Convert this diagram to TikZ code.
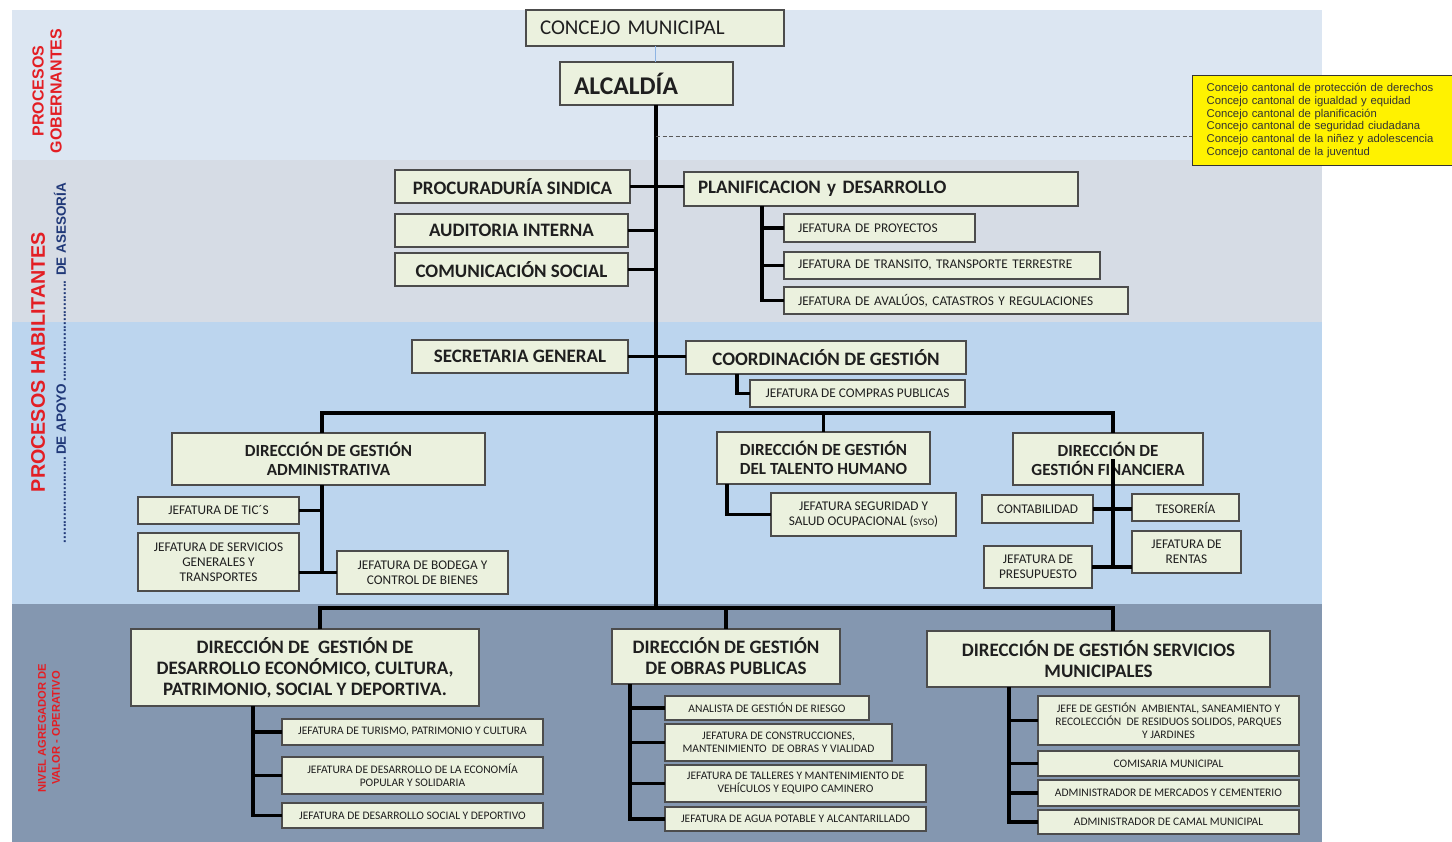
\documentclass[tikz,border=0pt]{standalone}
\usepackage{fontspec}
\newfontfamily\carlito{Carlito}
\newfontfamily\arial{Liberation Sans}
\usetikzlibrary{positioning}
\definecolor{verdecaja}{RGB}{235,241,222}
\definecolor{fondogob}{RGB}{220,230,242}
\definecolor{fondoases}{RGB}{214,220,229}
\definecolor{fondoapoyo}{RGB}{188,213,238}
\definecolor{fondooper}{RGB}{132,151,176}
\definecolor{rojoproc}{RGB}{227,30,36}
\definecolor{azulproc}{RGB}{32,56,120}
\definecolor{lineaazul}{RGB}{142,180,227}
\begin{document}
\begin{tikzpicture}[x=1pt, y=-1pt,
    box/.style={rectangle, draw=black!70, line width=1.2pt, fill=verdecaja, inner sep=0pt, outer sep=0pt, anchor=north west, align=center, text=black!88},
    izq/.style={align=left, inner xsep=14pt},
    big/.style={box, font=\carlito\bfseries\fontsize{19}{21}\selectfont},
    dir/.style={box, font=\carlito\bfseries\fontsize{17}{19}\selectfont},
    bigb/.style={box, font=\carlito\bfseries\fontsize{19}{21}\selectfont},
    jefa/.style={box, font=\carlito\fontsize{13.3}{15}\selectfont},
    jefb/.style={box, font=\carlito\fontsize{11.5}{13}\selectfont},
    lnk/.style={line width=3.5pt, black},
    franja/.style={font=\arial\bfseries, text=rojoproc, rotate=90, align=center}
]
    \useasboundingbox (0,0) rectangle (1452,842);
    % Fondos de cada nivel
    \fill[white] (0,0) rectangle (1452,842);
    \fill[fondogob] (12,10) rectangle (1322,160);
    \fill[fondoases] (12,160) rectangle (1322,322);
    \fill[fondoapoyo] (12,322) rectangle (1322,604);
    \fill[fondooper] (12,604) rectangle (1322,842);

    % Rotulos laterales
    \node[franja, font=\arial\bfseries\fontsize{16}{18}\selectfont] (lgob) at (47,91) {PROCESOS\\GOBERNANTES};
    \node[franja, font=\arial\bfseries\fontsize{19.7}{21}\selectfont] (lhab) at (38,362) {PROCESOS HABILITANTES};
    \node[rotate=90, text=azulproc, font=\arial\bfseries\fontsize{13.5}{15}\selectfont] (lsub) at (60,363) {\makebox[360pt][l]{\leaders\hbox{.}\hskip 88pt DE APOYO\leaders\hbox{.}\hfill\ DE ASESORÍA}};
    \node[franja, font=\arial\bfseries\fontsize{11.2}{14}\selectfont] (lniv) at (49,728) {NIVEL AGREGADOR DE\\VALOR - OPERATIVO};

    % Nivel gobernante
    \node[box, izq, text width=230pt, minimum height=36pt, font=\carlito\fontsize{21}{23}\selectfont] (conc) at (526,10) {CONCEJO MUNICIPAL};
    \node[box, izq, text width=145pt, minimum height=43pt, font=\carlito\bfseries\fontsize{25.5}{27}\selectfont] (alc) at (560,62) {ALCALDÍA};
    \node[draw=black!80, line width=1.2pt, fill=yellow, anchor=north west, text width=232pt, inner xsep=14pt, inner ysep=0pt, minimum height=90pt, align=left, text=black!80, font=\arial\fontsize{11.3}{12.7}\selectfont] (cons) at (1192,75) {Concejo cantonal de protección de derechos\\Concejo cantonal de igualdad y equidad\\Concejo cantonal de planificación\\Concejo cantonal de seguridad ciudadana\\Concejo cantonal de la niñez y adolescencia\\Concejo cantonal de la juventud};

    % Asesoria
    \node[big, minimum width=235pt, minimum height=33pt] (proc) at (395,170) {PROCURADURÍA SINDICA};
    \node[big, minimum width=233pt, minimum height=33pt, below=11pt of proc.south west, anchor=north west] (aud) {AUDITORIA INTERNA};
    \node[big, minimum width=233pt, minimum height=33pt, below=6pt of aud.south west, anchor=north west] (com) {COMUNICACIÓN SOCIAL};
    \node[big, izq, text width=366pt, minimum height=34pt] (plan) at (684,172) {PLANIFICACION y DESARROLLO};
    \node[jefa, izq, text width=163pt, minimum height=28pt] (jproy) at (784,214) {JEFATURA DE PROYECTOS};
    \node[jefa, izq, text width=288pt, minimum height=27pt, below=10pt of jproy.south west, anchor=north west] (jtran) {JEFATURA DE TRANSITO, TRANSPORTE TERRESTRE};
    \node[jefa, izq, text width=316pt, minimum height=27pt, below=8pt of jtran.south west, anchor=north west] (javal) {JEFATURA DE AVALÚOS, CATASTROS Y REGULACIONES};

    % Apoyo
    \node[big, minimum width=216pt, minimum height=33pt] (sec) at (412,340) {SECRETARIA GENERAL};
    \node[big, minimum width=280pt, minimum height=33pt] (coord) at (686,341) {COORDINACIÓN DE GESTIÓN};
    \node[jefa, minimum width=215pt, minimum height=27pt] (jcomp) at (750,380) {JEFATURA DE COMPRAS PUBLICAS};
    \node[dir, minimum width=313pt, minimum height=52pt] (dga) at (172,433) {DIRECCIÓN DE GESTIÓN\\ADMINISTRATIVA};
    \node[jefa, minimum width=161pt, minimum height=27pt] (jtic) at (138,497) {JEFATURA DE TIC´S};
    \node[jefa, minimum width=161pt, minimum height=58pt, below=9pt of jtic.south west, anchor=north west] (jserv) {JEFATURA DE SERVICIOS\\GENERALES Y\\TRANSPORTES};
    \node[jefa, minimum width=171pt, minimum height=43pt] (jbod) at (337,551) {JEFATURA DE BODEGA Y\\CONTROL DE BIENES};
    \node[dir, minimum width=213pt, minimum height=52pt] (dth) at (717,432) {DIRECCIÓN DE GESTIÓN\\DEL TALENTO HUMANO};
    \node[jefa, minimum width=185pt, minimum height=43pt] (jsyso) at (771,493) {JEFATURA SEGURIDAD Y\\SALUD OCUPACIONAL ({\fontsize{10}{12}\selectfont SYSO})};
    \node[dir, minimum width=190pt, minimum height=52pt] (dfin) at (1013,433) {DIRECCIÓN DE\\GESTIÓN FINANCIERA};
    \node[jefa, minimum width=111pt, minimum height=28pt] (cont) at (982,495) {CONTABILIDAD};
    \node[jefa, minimum width=107pt, minimum height=27pt] (teso) at (1132,494) {TESORERÍA};
    \node[jefa, minimum width=108pt, minimum height=42pt] (jpres) at (984,546) {JEFATURA DE\\PRESUPUESTO};
    \node[jefa, minimum width=109pt, minimum height=42pt] (jrent) at (1132,531) {JEFATURA DE\\RENTAS};

    % Agregador de valor
    \node[bigb, minimum width=348pt, minimum height=77pt] (dde) at (131,629) {DIRECCIÓN DE~~GESTIÓN DE\\DESARROLLO ECONÓMICO, CULTURA,\\PATRIMONIO, SOCIAL Y DEPORTIVA.};
    \node[jefb, minimum width=261pt, minimum height=26pt] (jtur) at (282,719) {JEFATURA DE TURISMO, PATRIMONIO Y CULTURA};
    \node[jefb, minimum width=261pt, minimum height=37pt, below=12pt of jtur.south west, anchor=north west] (jeco) {JEFATURA DE DESARROLLO DE LA ECONOMÍA\\POPULAR Y SOLIDARIA};
    \node[jefb, minimum width=261pt, minimum height=25pt, below=9pt of jeco.south west, anchor=north west] (jsoc) {JEFATURA DE DESARROLLO SOCIAL Y DEPORTIVO};
    \node[bigb, minimum width=228pt, minimum height=55pt] (dop) at (612,629) {DIRECCIÓN DE GESTIÓN\\DE OBRAS PUBLICAS};
    \node[jefb, minimum width=204pt, minimum height=24pt] (jries) at (665,696) {ANALISTA DE GESTIÓN DE RIESGO};
    \node[jefb, minimum width=227pt, minimum height=37pt, below=4pt of jries.south west, anchor=north west] (jcons) {JEFATURA DE CONSTRUCCIONES,\\MANTENIMIENTO~~DE OBRAS Y VIALIDAD};
    \node[jefb, minimum width=261pt, minimum height=37pt, below=4pt of jcons.south west, anchor=north west] (jtall) {JEFATURA DE TALLERES Y MANTENIMIENTO DE\\VEHÍCULOS Y EQUIPO CAMINERO};
    \node[jefb, minimum width=261pt, minimum height=24pt, below=5pt of jtall.south west, anchor=north west] (jagua) {JEFATURA DE AGUA POTABLE Y ALCANTARILLADO};
    \node[bigb, minimum width=343pt, minimum height=56pt] (dsm) at (927,631) {DIRECCIÓN DE GESTIÓN SERVICIOS\\MUNICIPALES};
    \node[jefb, minimum width=261pt, minimum height=49pt] (jamb) at (1038,696) {JEFE DE GESTIÓN~~AMBIENTAL, SANEAMIENTO Y\\RECOLECCIÓN~~DE RESIDUOS SOLIDOS, PARQUES\\Y JARDINES};
    \node[jefb, minimum width=261pt, minimum height=25pt, below=6pt of jamb.south west, anchor=north west] (jcom) {COMISARIA MUNICIPAL};
    \node[jefb, minimum width=261pt, minimum height=26pt, below=4pt of jcom.south west, anchor=north west] (jmer) {ADMINISTRADOR DE MERCADOS Y CEMENTERIO};
    \node[jefb, minimum width=261pt, minimum height=24pt, below=4pt of jmer.south west, anchor=north west] (jcam) {ADMINISTRADOR DE CAMAL MUNICIPAL};

    % Lineas de mando
    \coordinate (tbot) at (656,608);
    \coordinate (dq) at (656,136);
    \draw[line width=1pt, lineaazul] (conc.south) -- (conc.south |- alc.north);
    \draw[lnk] (alc.south -| tbot) -- (tbot);
    \draw[dash pattern=on 4pt off 2.5pt, line width=0.9pt, black!65] (dq) -- (dq -| cons.west);

    \draw[lnk] (proc.east) -- (proc.east -| plan.west);
    \draw[lnk] (aud.east) -- (aud.east -| tbot);
    \draw[lnk] (com.east) -- (com.east -| tbot);
    \coordinate (pv) at (762,206);
    \draw[lnk] (pv) |- (javal.west);
    \draw[lnk] (jproy.west -| pv) -- (jproy.west);
    \draw[lnk] (jtran.west -| pv) -- (jtran.west);

    \draw[lnk] (sec.east) -- (sec.east -| coord.west);
    \coordinate (cv) at (737,374);
    \draw[lnk] (cv) |- (jcomp.west);
    \coordinate (ba) at (322,413);
    \coordinate (bb) at (1113,413);
    \draw[lnk] (ba |- dga.north) -- (ba) -- (bb) -- (bb |- dfin.north);
    \draw[lnk] (dth.north |- ba) -- (dth.north);
    \draw[lnk] (dga.south -| ba) -- (jbod.west -| ba);
    \draw[lnk] (jtic.east) -- (jtic.east -| ba);
    \draw[lnk] (jbod.west -| jserv.east) -- (jbod.west);
    \coordinate (tv) at (727,484);
    \draw[lnk] (tv) |- (jsyso.west);
    \draw[lnk] (bb |- dfin.center) -- (bb |- jpres.east);
    \draw[lnk] (cont.east) -- (cont.east -| teso.west);
    \draw[lnk] (jpres.east) -- (jpres.east -| jrent.west);

    \coordinate (bc) at (320,608);
    \coordinate (bd) at (1113,608);
    \draw[lnk] (bc |- dde.north) -- (bc) -- (bd) -- (bd |- dsm.north);
    \draw[lnk] (dop.north |- bc) -- (dop.north);
    \coordinate (dv) at (253,706);
    \draw[lnk] (dv) |- (jsoc.west);
    \draw[lnk] (jtur.west -| dv) -- (jtur.west);
    \draw[lnk] (jeco.west -| dv) -- (jeco.west);
    \coordinate (ov) at (630,684);
    \draw[lnk] (ov) |- (jagua.west);
    \draw[lnk] (jries.west -| ov) -- (jries.west);
    \draw[lnk] (jcons.west -| ov) -- (jcons.west);
    \draw[lnk] (jtall.west -| ov) -- (jtall.west);
    \coordinate (sv) at (1009,687);
    \draw[lnk] (sv) |- (jcam.west);
    \draw[lnk] (jamb.west -| sv) -- (jamb.west);
    \draw[lnk] (jcom.west -| sv) -- (jcom.west);
    \draw[lnk] (jmer.west -| sv) -- (jmer.west);
\end{tikzpicture}
\end{document}
